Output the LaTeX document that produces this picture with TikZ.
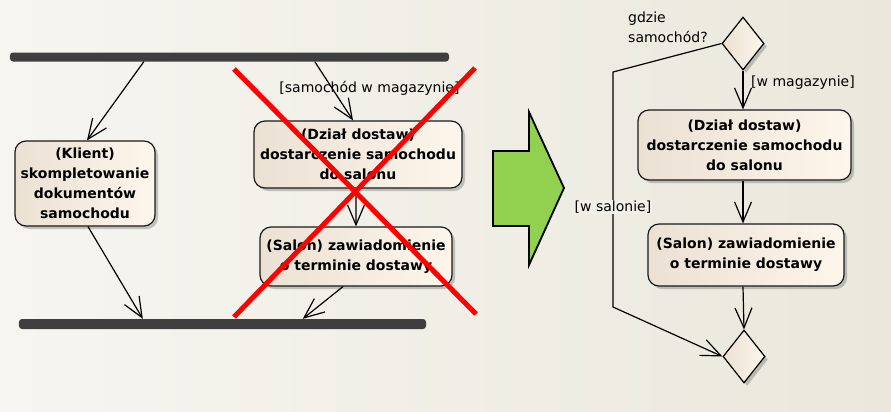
\documentclass[tikz,border=0pt]{standalone}
\usepackage{fontspec}
\setsansfont{DejaVu Sans}
\usetikzlibrary{arrows.meta,shapes.geometric,shadows}
\definecolor{bgL}{HTML}{F6F5F0}
\definecolor{bgR}{HTML}{EAE8DC}
\definecolor{bgM}{HTML}{F1F0E9}
\definecolor{boxL}{HTML}{EBE1D3}
\definecolor{boxR}{HTML}{FDF6EC}
\definecolor{barc}{HTML}{3F3F3F}
\definecolor{arrowgreen}{HTML}{92D050}
\definecolor{crossred}{HTML}{FF0000}
\begin{document}
\begin{tikzpicture}[x=1bp,y=-1bp,
  act/.style={draw=black!90, line width=1.2bp, rounded corners=11bp,
    left color=boxL, right color=boxR,
    font=\sffamily\bfseries\fontsize{14bp}{20bp}\selectfont,
    align=center, inner sep=0pt,
    drop shadow={shadow xshift=3bp,shadow yshift=-3bp,opacity=0.3,fill=black!70}},
  bar/.style={fill=barc, rounded corners=3bp, inner sep=0pt},
  dec/.style={diamond, draw=black, line width=1.2bp, left color=boxL, right color=boxR,
    inner sep=0pt,
    drop shadow={shadow xshift=3bp,shadow yshift=-3bp,opacity=0.3,fill=black!70}},
  arr/.style={line width=1.2bp, -{Straight Barb[length=20bp,width=17bp]}},
  lab/.style={font=\sffamily\fontsize{14bp}{20bp}\selectfont, inner sep=1bp}]
\useasboundingbox (0,0) rectangle (891,411);
\shade[left color=bgL, right color=bgR] (0,0) rectangle (891,411);

% ---- left (crossed) diagram ----
\node[bar, minimum width=439bp, minimum height=9bp] (fork) at (229.5,57) {};
\node[bar, minimum width=407bp, minimum height=10bp] (join) at (222.5,324) {};
\node[act, minimum width=140bp, minimum height=85bp] (klient) at (85,183.5)
  {(Klient)\\skompletowanie\\dokumentów\\samochodu};
\node[act, minimum width=208bp, minimum height=67bp] (dzialL) at (358,154.5)
  {(Dział dostaw)\\dostarczenie samochodu\\do salonu};
\node[act, minimum width=192bp, minimum height=59bp] (salonL) at (356,256.5)
  {(Salon) zawiadomienie\\o terminie dostawy};
\node[lab] (lmag) at (369.5,88) {[samochód w magazynie]};

\draw[arr] ([xshift=134bp]fork.south west) -- ([xshift=2bp]klient.north);
\draw[arr] ([xshift=3bp]klient.south) -- ([xshift=124bp]join.north west);
\draw[arr] ([xshift=305bp]fork.south west) -- ([xshift=-5bp]dzialL.north);
\draw[arr] ([xshift=-2bp]dzialL.south) -- (salonL.north);
\draw[arr] ([xshift=-13bp]salonL.south) -- ([xshift=284bp]join.north west);

\draw[crossred, line width=5bp] (234,69) -- (476,314);
\draw[crossred, line width=5bp] (234,317) -- (475,68);

% ---- green arrow ----
\draw[line width=1.8bp, fill=arrowgreen, line join=miter]
  (493,151) -- (529,151) -- (529,112) -- (564,188) -- (529,265) -- (529,226) -- (493,226) -- cycle;

% ---- right diagram ----
\node[dec, minimum width=42bp, minimum height=53bp] (d1) at (743,43.5) {};
\node[dec, minimum width=42bp, minimum height=53bp] (d2) at (744,356.5) {};
\node[act, minimum width=213bp, minimum height=70bp] (dzialR) at (744.5,145)
  {(Dział dostaw)\\dostarczenie samochodu\\do salonu};
\node[act, minimum width=196bp, minimum height=62bp] (salonR) at (746,255)
  {(Salon) zawiadomienie\\o terminie dostawy};
\node[lab, anchor=west, align=left] (q) at (627,27) {gdzie\\samochód?};
\node[lab, anchor=west] (lmagR) at (750,83) {[w magazynie]};

\coordinate (c1) at (613,72);
\coordinate (c2) at (613,307);
\draw[arr] (d1.south) -- (d1.south |- dzialR.north);
\draw[arr] (dzialR.south -| d1.south) -- (salonR.north -| d1.south);
\draw[arr] (salonR.south -| d1.south) -- (d2.north);
\draw[arr] (d1.west) -- (c1) -- (c2) -- (d2.west);
\node[lab, fill=bgM] (lsal) at (613,207) {[w salonie]};
\end{tikzpicture}
\end{document}
